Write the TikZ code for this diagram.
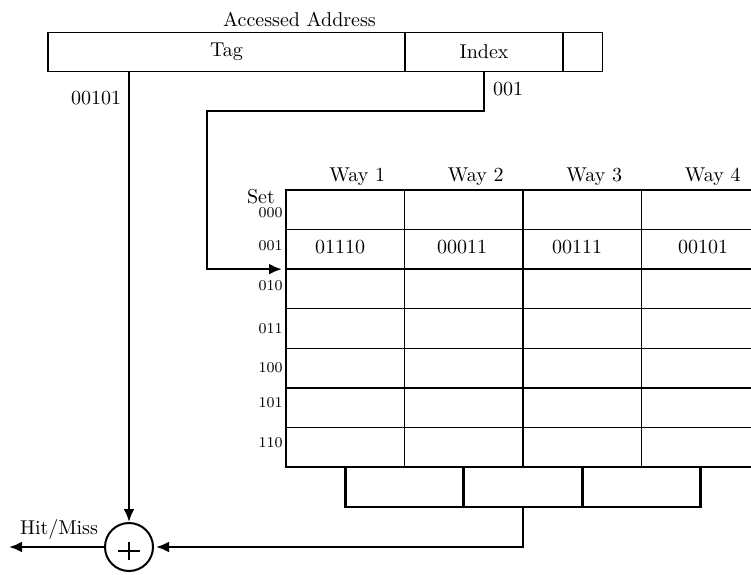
\documentclass[tikz,border=0pt]{standalone}
\usetikzlibrary{arrows.meta,calc}
\begin{document}
\begin{tikzpicture}[x=0.5pt,y=-0.5pt,
  box/.style={draw,line width=0.7pt,inner sep=0pt,outer sep=0pt,minimum height=19.7pt},
  cell/.style={draw,line width=0.7pt,inner sep=0pt,outer sep=0pt,minimum width=59.25pt,minimum height=19.785pt},
  wire/.style={line width=1.3pt},
  arr/.style={wire,-{Latex[length=6.5pt,width=5.5pt]}},
  setlbl/.style={anchor=east,inner sep=0pt,font=\fontsize{7.5}{9}\selectfont},
  lbl/.style={inner sep=0pt}]
\useasboundingbox (0,0) rectangle (751,574);
% address
\node[lbl] (title) at (299.5,19) {Accessed Address};
\node[box,minimum width=178.5pt] (tag) at (226.5,52) {Tag};
\node[box,minimum width=79pt] (index) at (484,52) {Index};
\node[box,minimum width=19.75pt] (off) at (582.75,52) {};
% cache table
\foreach \r in {0,...,6}
  \foreach \w in {1,...,4}
    \node[cell] (c-\r-\w) at ({286+(\w-0.5)*118.5},{190+(\r+0.5)*39.571}) {};
\foreach \w in {1,...,4}
  \node[lbl] (h-\w) at ({286+(\w-0.5)*118.5+12},177) {Way \w};
\node[lbl] (v-1) at (340,247) {01110};
\node[lbl] (v-2) at (462,247) {00011};
\node[lbl] (v-3) at (577,247) {00111};
\node[lbl] (v-4) at (703,247) {00101};
\node[lbl] (setttl) at (261,197) {Set};
\foreach \r/\t/\y in {0/000/213,1/001/246,2/010/286,3/011/329,4/100/368,5/101/403,6/110/443}
  \node[setlbl] (s-\r) at (283,\y) {\t};
% comparator
\node[draw,circle,line width=1pt,minimum size=24pt,inner sep=0pt] (xor) at (129,547) {};
\draw[line width=1.2pt] ($(xor.center)+(-11,4)$) -- ($(xor.center)+(11,4)$);
\draw[line width=1.2pt] ($(xor.center)+(0,-5)$) -- ($(xor.center)+(0,13)$);
% tag path
\draw[arr] (tag.south -| xor.north) -- (xor.north);
\node[lbl] (tagval) at (96,98) {00101};
% index path
\coordinate (bend) at (207,111);
\draw[arr,shorten >=2pt] (index.south) |- (bend) |- (c-1-1.south west);
\node[lbl] (idxval) at (508,89) {001};
% way outputs
\draw[wire] (c-6-1.south) -- (c-6-1.south |- 0,507) -- (c-6-4.south |- 0,507) -- (c-6-4.south);
\draw[wire] (c-6-2.south) -- (c-6-2.south |- 0,507);
\draw[wire] (c-6-3.south) -- (c-6-3.south |- 0,507);
\coordinate (tap) at (c-6-3.south west |- 0,507);
\draw[arr,shorten >=1pt] (tap) |- (xor.east);
% output
\coordinate (out) at (9,547);
\draw[arr] (xor.west) -- (out);
\node[lbl] (hm) at (59,529) {Hit/Miss};
\end{tikzpicture}
\end{document}
